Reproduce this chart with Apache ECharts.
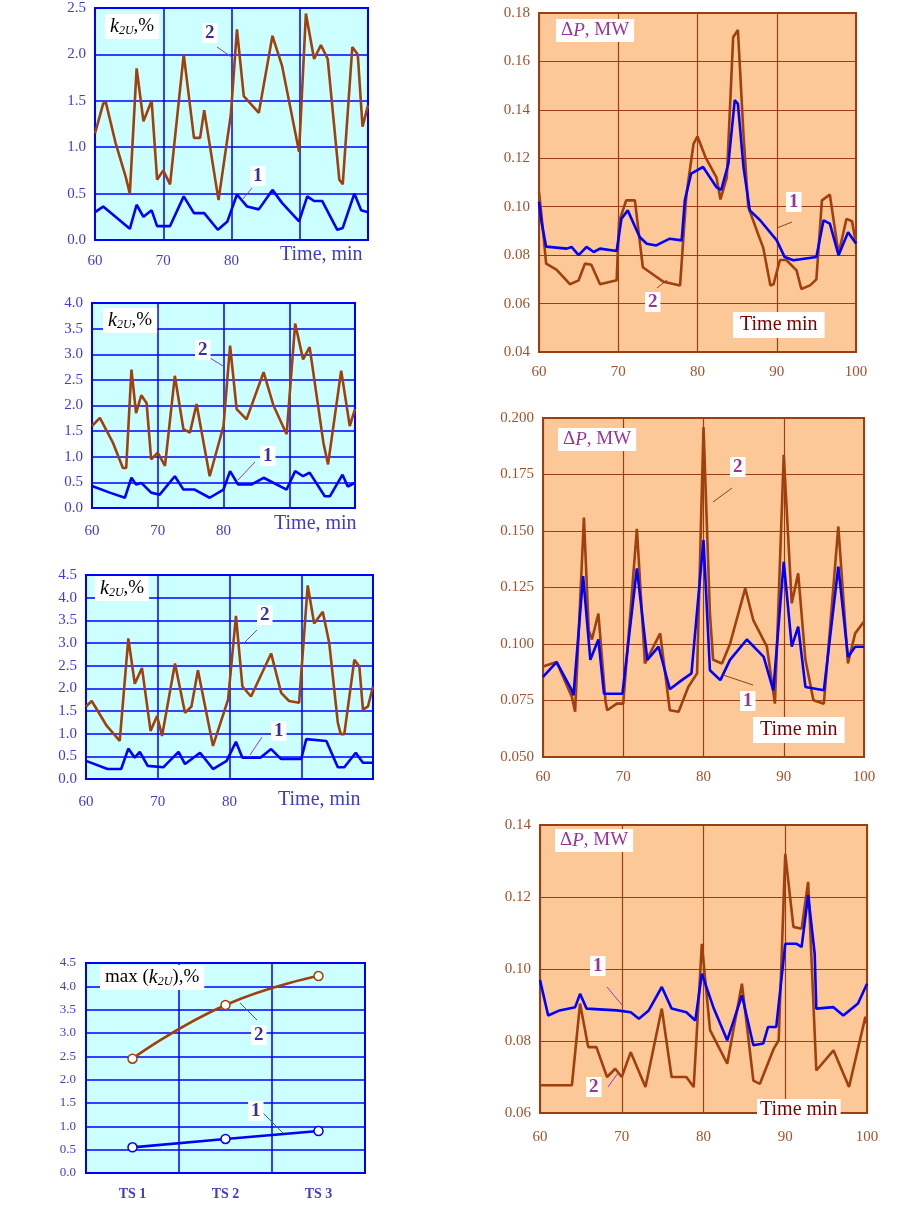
<!DOCTYPE html>
<html>
<head>
<meta charset="utf-8">
<script src="https://cdn.jsdelivr.net/npm/echarts@6/dist/echarts.min.js"></script>
<style>html,body{margin:0;background:#fff}#c{width:901px;height:1205px}</style>
</head>
<body>
<div id="c"></div>
<script>
// k2U, % for three test schemes: [time, value]
const ts1Curve1 = [[60,0.3],[61.2,0.36],[63,0.25],[65.1,0.12],[66.1,0.38],[67.1,0.25],[68.3,0.32],[69.1,0.15],[71,0.15],[73,0.47],[74.5,0.29],[76,0.29],[78,0.11],[79.4,0.2],[80.8,0.49],[82.3,0.36],[84,0.33],[86,0.54],[87.4,0.4],[89.9,0.2],[91.1,0.47],[92.1,0.42],[93.3,0.42],[95.5,0.11],[96.3,0.13],[98,0.5],[99,0.32],[100,0.3]];
const ts1Curve2 = [[60,1.15],[61.2,1.47],[61.6,1.48],[63,1.05],[64.5,0.68],[65.1,0.5],[66.1,1.85],[67.1,1.28],[68.3,1.5],[69.1,0.65],[70,0.75],[71,0.6],[73,2.0],[74.5,1.1],[75.4,1.1],[76,1.4],[78.1,0.43],[79.9,1.35],[80.8,2.27],[81.8,1.55],[84,1.37],[86,2.2],[87.4,1.88],[89.9,0.95],[90.9,2.44],[92.1,1.95],[93.1,2.1],[94.1,1.95],[95.8,0.65],[96.3,0.6],[97.7,2.08],[98.5,2.0],[99.2,1.22],[100,1.45]];
const ts2Curve1 = [[60,0.43],[62.7,0.3],[65,0.2],[66,0.59],[66.7,0.46],[67.5,0.49],[69,0.3],[70.3,0.26],[72.6,0.62],[73.9,0.36],[75.6,0.36],[77.9,0.2],[80,0.36],[81,0.72],[82.2,0.46],[84.3,0.46],[86.1,0.59],[89.6,0.36],[90.9,0.72],[92.1,0.62],[93.1,0.69],[95.4,0.23],[96.2,0.23],[98.1,0.65],[98.9,0.42],[100,0.49]];
const ts2Curve2 = [[60,1.6],[61.2,1.76],[63.2,1.27],[64.7,0.78],[65.2,0.78],[66,2.7],[66.7,1.85],[67.5,2.2],[68.3,2.05],[69,0.95],[70,1.08],[71.1,0.82],[72.6,2.58],[73.9,1.54],[74.9,1.47],[75.9,2.03],[77.9,0.62],[80,1.6],[81,3.17],[82,1.93],[83.5,1.73],[86.1,2.65],[87.6,2.0],[89.6,1.44],[90.9,3.6],[92.1,2.9],[93.1,3.14],[95.2,1.27],[95.9,0.85],[97.9,2.68],[99.2,1.6],[100,1.93]];
const ts3Curve1 = [[60,0.4],[63,0.22],[64.9,0.22],[65.9,0.67],[66.8,0.47],[67.5,0.6],[68.6,0.29],[70.8,0.26],[72.9,0.6],[73.8,0.33],[75.9,0.58],[77.7,0.22],[79.6,0.4],[80.9,0.82],[81.8,0.47],[84.3,0.47],[85.8,0.66],[87.2,0.44],[90,0.44],[90.7,0.88],[93.5,0.84],[95.1,0.26],[96,0.26],[97.6,0.58],[98.6,0.36],[100,0.36]];
const ts3Curve2 = [[60,1.6],[60.8,1.72],[62.9,1.17],[64.7,0.84],[65.9,3.1],[66.8,2.1],[67.8,2.45],[69,1.06],[69.9,1.39],[70.6,0.95],[72.4,2.55],[73.8,1.46],[74.7,1.6],[75.6,2.4],[77.7,0.73],[79.8,1.75],[80.9,3.6],[81.8,2.04],[83,1.82],[85.8,2.77],[87.2,1.9],[88.3,1.72],[89.7,1.68],[90.9,4.27],[91.8,3.43],[93,3.69],[93.9,3.0],[95.1,1.24],[95.5,0.99],[96,0.99],[97.4,2.63],[98.1,2.48],[98.6,1.53],[99.3,1.6],[100,2.04]];

// max(k2U)
const schemes = ['TS 1', 'TS 2', 'TS 3'];
const maxK1 = [0.55, 0.73, 0.9];
const maxK2 = [2.45, 3.6, 4.22];

// ΔP, MW
const dp1Curve1 = [[60,0.102],[60.3,0.094],[60.9,0.0835],[63.5,0.0827],[64.1,0.0834],[65,0.08],[66,0.0834],[66.9,0.0813],[67.7,0.0827],[69.8,0.0817],[70.4,0.095],[71.2,0.0985],[72.7,0.0875],[73.6,0.0847],[74.8,0.084],[76.5,0.0868],[78,0.0861],[78.4,0.1026],[79.2,0.1137],[80.7,0.1164],[82.4,0.108],[83,0.107],[83.9,0.1178],[84.7,0.144],[85.1,0.1425],[85.8,0.1164],[86.6,0.0985],[87.9,0.0944],[90,0.0861],[91,0.0792],[92.1,0.0779],[95,0.0792],[95.9,0.0944],[96.7,0.093],[97.8,0.08],[99,0.0895],[100,0.0848]];
const dp1Curve2 = [[60,0.106],[60.3,0.097],[60.9,0.0765],[62.2,0.074],[63.9,0.068],[65,0.0696],[65.8,0.0765],[66.6,0.076],[67.7,0.068],[69.8,0.0696],[70.1,0.0937],[71,0.1026],[72.1,0.1026],[73.1,0.075],[75.7,0.069],[77.8,0.0675],[78.6,0.105],[79.5,0.126],[80,0.129],[81,0.1205],[82.4,0.112],[82.9,0.103],[83.7,0.112],[84.5,0.170],[85.1,0.173],[85.8,0.130],[86.4,0.1],[87.5,0.09],[88.3,0.083],[89.2,0.0675],[89.6,0.068],[90.4,0.078],[91.2,0.078],[92.5,0.0737],[93.1,0.066],[94.2,0.0675],[95,0.07],[95.7,0.1026],[96.7,0.105],[97.8,0.0806],[98.8,0.095],[99.5,0.094],[100,0.0848]];
const dp2Curve1 = [[60,0.0855],[61.7,0.092],[63.6,0.0795],[63.8,0.0773],[65,0.130],[65.9,0.093],[66.9,0.102],[67.6,0.078],[69.9,0.078],[71.7,0.1335],[73,0.093],[74.4,0.0988],[75.8,0.080],[77.3,0.084],[78.5,0.087],[80,0.146],[80.8,0.0884],[82.1,0.084],[83.3,0.093],[85.4,0.102],[87.5,0.0943],[88.7,0.0795],[90,0.1364],[91,0.0988],[91.8,0.1077],[92.7,0.081],[95,0.0795],[96.8,0.1342],[98,0.0943],[98.9,0.0988],[100,0.0988]];
const dp2Curve2 = [[60,0.09],[61.7,0.092],[63.6,0.0766],[64,0.07],[65.1,0.156],[65.7,0.106],[66.1,0.102],[66.9,0.1135],[67.8,0.0744],[68,0.0707],[69.2,0.0736],[70,0.0736],[71.7,0.151],[72.7,0.0914],[74.6,0.1047],[75.8,0.0707],[76.9,0.07],[78.1,0.081],[79.2,0.087],[80,0.196],[80.8,0.1135],[81.2,0.093],[82.3,0.0914],[83.3,0.1],[85.2,0.1246],[86.2,0.1106],[87.9,0.0988],[88.9,0.0736],[90,0.1837],[91,0.118],[91.8,0.1313],[92.7,0.093],[93.7,0.0751],[95,0.0736],[96.8,0.152],[98,0.0914],[98.9,0.1047],[100,0.11]];
const dp3Curve1 = [[60,0.0969],[61,0.0871],[62.4,0.0885],[64.3,0.0894],[64.9,0.0931],[65.7,0.089],[69.4,0.0885],[71.1,0.088],[72.1,0.0862],[73.3,0.0885],[74.9,0.095],[76.1,0.089],[77.9,0.088],[79,0.0857],[79.8,0.0987],[81.2,0.0894],[82.9,0.0802],[84.7,0.0927],[86.1,0.0788],[87.3,0.0793],[87.9,0.0839],[88.9,0.0839],[90,0.107],[91.4,0.107],[92,0.1061],[92.8,0.1205],[93.6,0.1043],[93.8,0.089],[95.9,0.0894],[97.1,0.0871],[98.9,0.0904],[100,0.0959]];
const dp3Curve2 = [[60,0.0677],[63.9,0.0677],[64.9,0.0904],[65.9,0.0783],[66.9,0.0783],[68.2,0.07],[69.2,0.0723],[70,0.07],[71.1,0.0769],[72.9,0.0672],[74.9,0.089],[76.1,0.07],[77.9,0.07],[78.8,0.0672],[79.8,0.107],[80.8,0.083],[82.9,0.0737],[84.7,0.0959],[86.1,0.069],[86.9,0.0681],[88.6,0.0779],[89.2,0.0802],[90,0.132],[91,0.1117],[92,0.1112],[92.8,0.1242],[93.8,0.0718],[95.9,0.0774],[97.8,0.0672],[99.8,0.0867],[100,0.0848]];

const BROWN = '#a0400c', BLUE = '#0000ff';
const FONT = '"Liberation Serif", "DejaVu Serif", serif';

const panels = [
  // left: k2U charts
  { box: [95, 8, 273, 232], y: [0, 2.5, 0.5, 1], c: [ts1Curve1, ts1Curve2], side: 'L', lm: 14 },
  { box: [92, 303, 263, 205], y: [0, 4, 0.5, 1], c: [ts2Curve1, ts2Curve2], side: 'L', lm: 16 },
  { box: [86, 575, 287, 204], y: [0, 4.5, 0.5, 1], c: [ts3Curve1, ts3Curve2], side: 'L', lm: 16 },
  // right: ΔP charts
  { box: [539, 13, 317, 339], y: [0.04, 0.18, 0.02, 2], c: [dp1Curve1, dp1Curve2], side: 'R', lm: 13 },
  { box: [543, 418, 321, 339], y: [0.05, 0.2, 0.025, 3], c: [dp2Curve1, dp2Curve2], side: 'R', lm: 13 },
  { box: [540, 825, 327, 288], y: [0.06, 0.14, 0.02, 2], c: [dp3Curve1, dp3Curve2], side: 'R', lm: 17 }
];

const grid = [], xAxis = [], yAxis = [], series = [];
panels.forEach((p, i) => {
  const L = p.side === 'L';
  const lineCol = L ? BLUE : '#9a3f12';
  const labCol = L ? '#3d3dcc' : '#a0522d';
  const bg = L ? '#ccffff' : '#fdc897';
  grid.push({ left: p.box[0], top: p.box[1], width: p.box[2], height: p.box[3], show: true,
    backgroundColor: bg, borderColor: lineCol, borderWidth: 2 });
  xAxis.push({ type: 'value', gridIndex: i, min: 60, max: 100, interval: 10,
    axisLine: { show: false }, axisTick: { show: false },
    splitLine: { lineStyle: { color: lineCol, width: L ? 1.5 : 1.2 } },
    axisLabel: { color: labCol, fontFamily: FONT, fontSize: 15, margin: p.lm,
      formatter: v => (L && v >= 90) ? '' : String(v) } });
  yAxis.push({ type: 'value', gridIndex: i, min: p.y[0], max: p.y[1], interval: p.y[2],
    axisLine: { show: false }, axisTick: { show: false },
    splitLine: { lineStyle: { color: lineCol, width: L ? 1.5 : 1.2 } },
    axisLabel: { color: labCol, fontFamily: FONT, fontSize: 15, margin: 9,
      formatter: v => v.toFixed(p.y[3]) } });
  series.push({ type: 'line', xAxisIndex: i, yAxisIndex: i, data: p.c[1], showSymbol: false,
    lineStyle: { color: BROWN, width: 2.6 }, z: 3 });
  series.push({ type: 'line', xAxisIndex: i, yAxisIndex: i, data: p.c[0], showSymbol: false,
    lineStyle: { color: BLUE, width: 2.6 }, z: 4 });
});

// max(k2U) comparison
const gi = panels.length;
grid.push({ left: 86, top: 963, width: 279, height: 210, show: true,
  backgroundColor: '#ccffff', borderColor: BLUE, borderWidth: 2 });
xAxis.push({ type: 'category', gridIndex: gi, data: schemes, boundaryGap: true,
  axisLine: { show: false }, axisTick: { show: false },
  splitLine: { show: true, lineStyle: { color: BLUE, width: 1.5 } },
  axisLabel: { color: '#3d3dcc', fontFamily: FONT, fontSize: 14, fontWeight: 'bold', margin: 14 } });
yAxis.push({ type: 'value', gridIndex: gi, min: 0, max: 4.5, interval: 0.5,
  axisLine: { show: false }, axisTick: { show: false },
  splitLine: { lineStyle: { color: BLUE, width: 1.5 } },
  axisLabel: { color: '#3d3dcc', fontFamily: FONT, fontSize: 13, margin: 10, formatter: v => v.toFixed(1) } });
series.push({ type: 'line', xAxisIndex: gi, yAxisIndex: gi, data: maxK2, smooth: true,
  symbol: 'circle', symbolSize: 9, lineStyle: { color: BROWN, width: 2.6 },
  itemStyle: { color: '#fff', borderColor: BROWN, borderWidth: 1.5 }, z: 3 });
series.push({ type: 'line', xAxisIndex: gi, yAxisIndex: gi, data: maxK1, smooth: true,
  symbol: 'circle', symbolSize: 9, lineStyle: { color: BLUE, width: 2.6 },
  itemStyle: { color: '#fff', borderColor: BLUE, borderWidth: 1.5 }, z: 3 });

// labels and leader lines
const richStyles = {
  k: { fontStyle: 'italic', fontSize: 20, fontFamily: FONT, fill: '#000' },
  s: { fontStyle: 'italic', fontSize: 12, fontFamily: FONT, fill: '#000', verticalAlign: 'bottom', padding: [9, 0, 0, 0] },
  t: { fontSize: 19, fontFamily: FONT, fill: '#000' },
  d: { fontSize: 19, fontFamily: FONT, fill: '#993399' },
  di: { fontSize: 19, fontFamily: FONT, fill: '#993399', fontStyle: 'italic' }
};
function box(x, y, rich) {
  return { type: 'text', x, y, z: 20, style: { text: rich, font: '19px ' + FONT,
    backgroundColor: '#fff', padding: [2, 5, 2, 5], rich: richStyles } };
}
function num(x, y, t, color) {
  return { type: 'text', x, y, z: 20, style: { text: t, fill: color, font: 'bold 19px ' + FONT,
    backgroundColor: '#fff', padding: [1, 3, 0, 3] } };
}
function lead(x1, y1, x2, y2, color) {
  return { type: 'line', z: 19, shape: { x1, y1, x2, y2 }, style: { stroke: color, lineWidth: 1 } };
}
function note(x, y, t, color, pad) {
  return { type: 'text', x, y, z: 20, style: { text: t, fill: color, font: '20px ' + FONT,
    backgroundColor: pad ? '#fff' : null, padding: pad || 0 } };
}
const kTitle = '{k|k}{s|2U}{t|,%}';
const dpTitle = '{d|Δ}{di|P}{d|, MW}';
const NB = '#333399', NP = '#993399';
const graphic = [
  box(105, 14, kTitle), box(103, 308, kTitle), box(95, 576, kTitle),
  box(100, 965, '{t|max (}{k|k}{s|2U}{t|),%}'),
  box(556, 19, dpTitle), box(558, 428, dpTitle), box(555, 829, dpTitle),
  note(280, 245, 'Time, min', '#3d3dcc'),
  note(274, 514, 'Time, min', '#3d3dcc'),
  note(278, 790, 'Time, min', '#3d3dcc'),
  note(733, 312, 'Time min', '#800000', [3, 7, 3, 7]),
  note(753, 717, 'Time min', '#800000', [3, 7, 3, 7]),
  note(757, 1099, 'Time min', '#800000', [1, 3, 1, 3]),
  num(202, 23, '2', NB), lead(217, 47, 233, 58, '#9933cc'),
  num(250, 166, '1', NB), lead(252, 188, 242, 200, '#9933cc'),
  num(195, 340, '2', NB), lead(210, 358, 223, 366, '#9933cc'),
  num(260, 446, '1', NB), lead(255, 462, 238, 480, '#9933cc'),
  num(257, 605, '2', NB), lead(257, 630, 245, 642, '#9933cc'),
  num(271, 721, '1', NB), lead(262, 737, 250, 755, '#9933cc'),
  num(251, 1025, '2', NB), lead(257, 1020, 240, 1003, '#336666'),
  num(248, 1101, '1', NB), lead(263, 1113, 283, 1133, '#336666'),
  num(645, 292, '2', NP), lead(657, 288, 667, 280, '#8b4513'),
  num(786, 192, '1', NP), lead(792, 222, 777, 228, '#8b4513'),
  num(730, 457, '2', NP), lead(732, 488, 713, 502, '#8b4513'),
  num(740, 691, '1', NP), lead(753, 685, 723, 675, '#8b4513'),
  num(590, 956, '1', NP), lead(607, 987, 622, 1005, '#9933cc'),
  num(586, 1077, '2', NP), lead(608, 1087, 618, 1073, '#9933cc')
];

const chart = echarts.init(document.getElementById('c'));
chart.setOption({ animation: false, backgroundColor: '#fff', grid, xAxis, yAxis, series, graphic });
</script>
</body>
</html>
